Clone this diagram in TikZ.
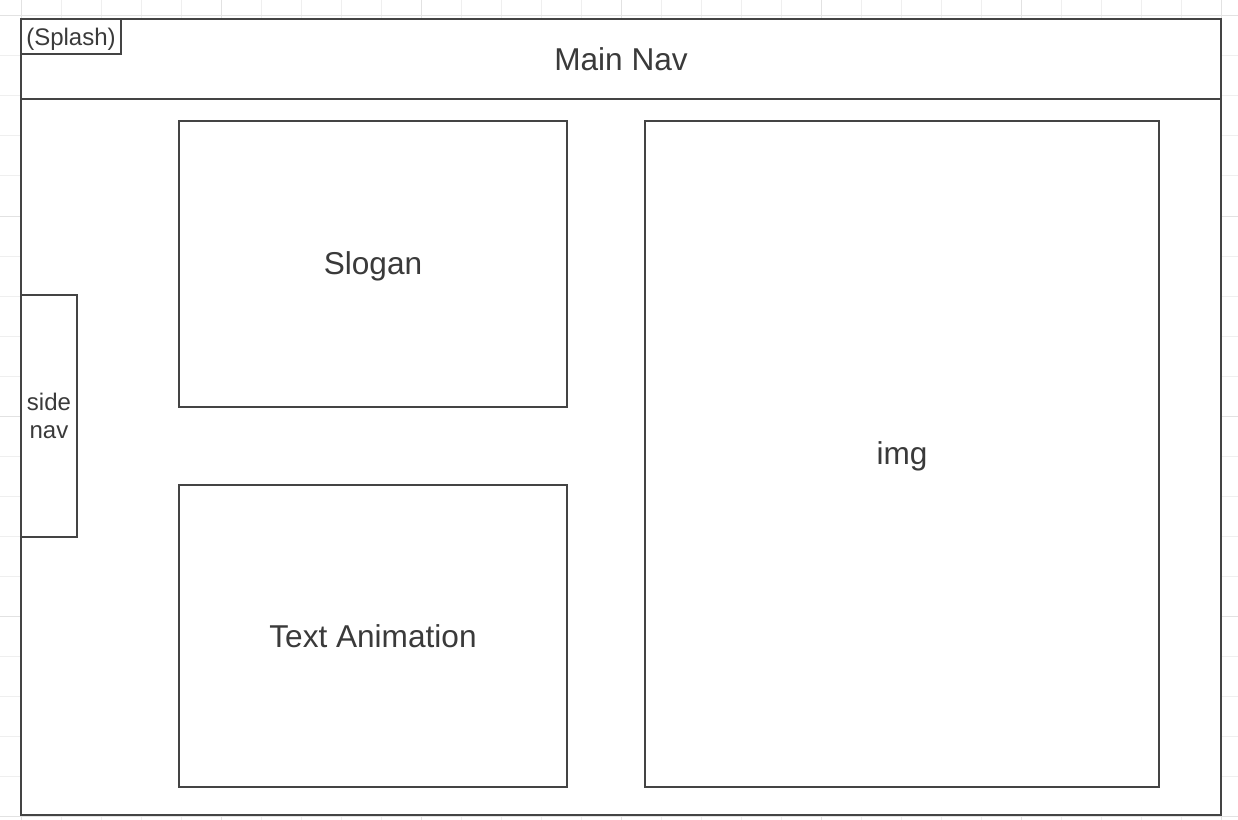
\documentclass[tikz,border=0pt]{standalone}
\usepackage{fontspec}
\setmainfont{Liberation Sans}
\definecolor{gridminor}{HTML}{EFEFEF}
\definecolor{gridmajor}{HTML}{E2E2E2}
\definecolor{edge}{HTML}{444444}
\definecolor{txt}{HTML}{3A3A3A}
\tikzset{
  box/.style={draw=edge, line width=1.5pt, fill=white, inner sep=0pt, text=txt, font=\fontsize{23.7}{27}\selectfont},
  smallbox/.style={box, font=\fontsize{18}{21}\selectfont, align=center},
}
\newcommand{\dn}[2]{\raisebox{-#1}[\height][\depth]{#2}}
\begin{document}
\begin{tikzpicture}[x=0.75pt, y=-0.75pt]
\useasboundingbox (0,0) rectangle (1238,820);
\fill[white] (0,0) rectangle (1238,820);
% grid
\foreach \x in {21,61,...,1221} \draw[gridminor, line width=0.75pt] (\x,0) -- (\x,820);
\foreach \y in {16,56,...,816} \draw[gridminor, line width=0.75pt] (0,\y) -- (1238,\y);
\foreach \x in {21,221,...,1221} \draw[gridmajor, line width=0.75pt] (\x,0) -- (\x,820);
\foreach \y in {16,216,...,816} \draw[gridmajor, line width=0.75pt] (0,\y) -- (1238,\y);
% frame
\node[box, minimum width=900pt, minimum height=597pt] (frame) at (621,417) {};
\node[box, minimum width=900pt, minimum height=60pt] (nav) at (621,59) {Main Nav};
\node[smallbox, minimum width=75pt, minimum height=26.25pt] (splash) at (71,36.5) {\dn{2.25pt}{(Splash)}};
\node[smallbox, minimum width=42pt, minimum height=181.5pt] (side) at (49,416) {side\\nav};
\node[box, minimum width=291pt, minimum height=214.5pt] (slogan) at (373,264) {\dn{1.5pt}{Slogan}};
\node[box, minimum width=291pt, minimum height=226.5pt] (anim) at (373,636) {Text Animation};
\node[box, minimum width=385.5pt, minimum height=499.5pt] (img) at (902,454) {\dn{1.5pt}{img}};
\end{tikzpicture}
\end{document}
